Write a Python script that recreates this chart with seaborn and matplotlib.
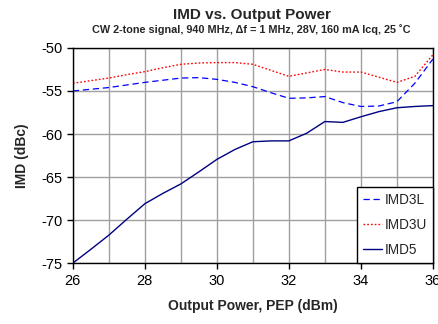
import matplotlib
matplotlib.use("Agg")
import matplotlib.pyplot as plt
import pandas as pd
import seaborn as sns
import numpy as np

# Data
power = [26, 26.5, 27, 27.5, 28, 28.5, 29, 29.5, 30, 30.5, 31,
         31.5, 32, 32.5, 33, 33.5, 34, 34.5, 35, 35.5, 36]
imd3l = [-55.0, -54.8, -54.6, -54.3, -54.0, -53.75, -53.5, -53.45, -53.65, -54.0, -54.5,
         -55.2, -55.85, -55.8, -55.65, -56.35, -56.8, -56.75, -56.25, -54.1, -51.3]
imd3u = [-54.1, -53.8, -53.5, -53.1, -52.75, -52.3, -51.9, -51.75, -51.7, -51.7, -51.9,
         -52.6, -53.3, -52.9, -52.5, -52.8, -52.8, -53.4, -54.0, -53.3, -50.8]
imd5 = [-75.0, -73.4, -71.75, -69.9, -68.1, -66.9, -65.8, -64.4, -62.95, -61.8, -60.9,
        -60.8, -60.8, -59.9, -58.55, -58.65, -58.0, -57.4, -56.95, -56.8, -56.7]

sns.set_style("white")
plt.rcParams["font.family"] = ["Liberation Sans", "DejaVu Sans"]
plt.rcParams["axes.unicode_minus"] = False

fig = plt.figure(figsize=(4.39, 3.24), dpi=100)
ax = fig.add_axes([0.166, 0.188, 0.820, 0.664])

sns.lineplot(x=power, y=imd3l, ax=ax, color="#0000ff", linestyle=(0, (5, 3)),
             linewidth=0.9, label="IMD3L")
sns.lineplot(x=power, y=imd3u, ax=ax, color="#ff0000", linestyle=(0, (1.2, 1.5)),
             linewidth=1.0, label="IMD3U")
sns.lineplot(x=power, y=imd5, ax=ax, color="#000080", linestyle="-",
             linewidth=1.0, label="IMD5")

ax.set_xlim(26, 36)
ax.set_ylim(-75, -50)
ax.set_xticks(np.arange(26, 37, 2))
ax.set_xticks(np.arange(26, 37, 1), minor=True)
ax.set_yticks(np.arange(-75, -49, 5))
ax.grid(True, which="both", axis="x", color="#a0a0a0", linewidth=1.0)
ax.grid(True, which="major", axis="y", color="#a0a0a0", linewidth=1.0)
ax.set_axisbelow(True)
ax.tick_params(axis="both", which="major", direction="out", length=4, width=1,
               labelsize=10.5, colors="black", bottom=True, left=True)
ax.tick_params(axis="x", which="minor", length=0)
for s in ax.spines.values():
    s.set_color("black")
    s.set_linewidth(1.0)

ax.set_xlabel("Output Power, PEP (dBm)", fontsize=10, fontweight="bold", labelpad=8)
ax.set_ylabel("IMD (dBc)", fontsize=10, fontweight="bold", labelpad=9)
fig.text(0.573, 0.955, "IMD vs. Output Power", ha="center", va="center",
         fontsize=11, fontweight="bold")
fig.text(0.573, 0.91, "CW 2-tone signal, 940 MHz, \u0394f = 1 MHz, 28V, 160 mA Icq, 25 \u02daC",
         ha="center", va="center", fontsize=7.8, fontweight="bold")

leg = ax.legend(loc="lower right", fontsize=9.8, frameon=True, fancybox=False,
                edgecolor="black", framealpha=1, borderaxespad=0.0,
                handlelength=1.4, handletextpad=0.2, labelspacing=0.8,
                borderpad=0.45)
leg.get_frame().set_linewidth(1.0)

fig.savefig("out.png", dpi=100)
